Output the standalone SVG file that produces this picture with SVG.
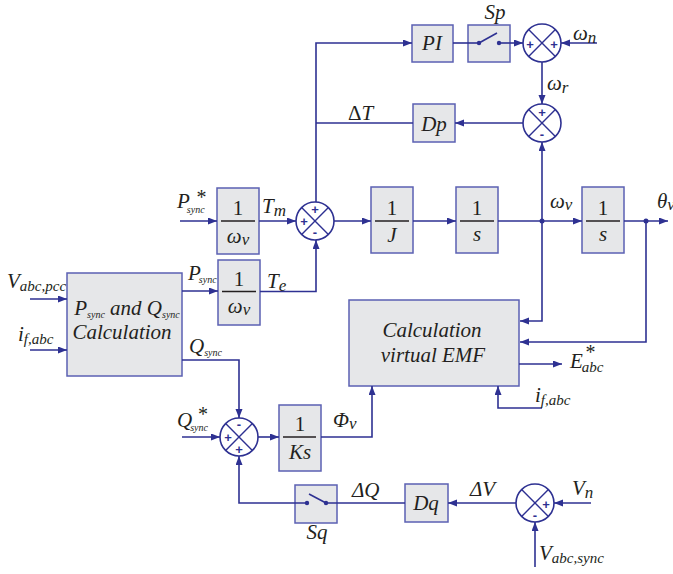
<svg xmlns="http://www.w3.org/2000/svg" width="673" height="574" viewBox="0 0 673 574">
<defs>
<marker id="ar" markerUnits="userSpaceOnUse" markerWidth="10" markerHeight="8" refX="9" refY="3.5" orient="auto">
<path d="M0,0 L9,3.5 L0,7 z" fill="#2e3192"/>
</marker>
<style>
.box{fill:#e6e7e9;stroke:#5b60b3;stroke-width:1.5}
.ln{fill:none;stroke:#2e3192;stroke-width:1.6}
.la{fill:none;stroke:#2e3192;stroke-width:1.6;marker-end:url(#ar)}
.sum{fill:#ffffff;stroke:#2e3192;stroke-width:1.6}
.x{stroke:#2e3192;stroke-width:1.4}
.sg{font-family:'Liberation Sans',sans-serif;font-size:13px;font-weight:bold;fill:#2e3192;text-anchor:middle;dominant-baseline:central}
.t{font-family:'Liberation Serif','DejaVu Serif',serif;font-style:italic;font-size:21px;fill:#231f20}
.n{font-family:'Liberation Serif','DejaVu Serif',serif;font-size:21px;fill:#231f20;text-anchor:middle}
.c{text-anchor:middle}
.dot{fill:#2e3192}
.fl{stroke:#231f20;stroke-width:1.3}
</style>
</defs>
<rect width="673" height="574" fill="#ffffff"/>

<g id="PI"><rect class="box" x="412" y="25" width="41" height="37"/><text class="t c" x="432" y="50">PI</text></g>
<g id="Sp"><rect class="box" x="468" y="25" width="42" height="37"/><text class="t c" x="495" y="19">Sp</text></g>
<g id="Dp"><rect class="box" x="413" y="104" width="42" height="38"/><text class="t c" x="434" y="131">Dp</text></g>

<g id="sum1"><circle class="sum" cx="542" cy="43" r="19"/><path class="x" d="M528.6,29.6 L555.4,56.4 M555.4,29.6 L528.6,56.4"/><text class="sg" x="530" y="44">+</text><text class="sg" x="554" y="44">+</text></g>
<g id="sum2"><circle class="sum" cx="542" cy="123" r="19"/><path class="x" d="M528.6,109.6 L555.4,136.4 M555.4,109.6 L528.6,136.4"/><text class="sg" x="542" y="112">+</text><text class="sg" x="542" y="134">-</text></g>
<g id="sum3"><circle class="sum" cx="315" cy="221" r="19"/><path class="x" d="M301.6,207.6 L328.4,234.4 M328.4,207.6 L301.6,234.4"/><text class="sg" x="315" y="209">+</text><text class="sg" x="304" y="221">+</text><text class="sg" x="315" y="232">-</text></g>
<g id="sum4"><circle class="sum" cx="239" cy="437" r="19"/><path class="x" d="M225.6,423.6 L252.4,450.4 M252.4,423.6 L225.6,450.4"/><text class="sg" x="239" y="424">-</text><text class="sg" x="228" y="437">+</text><text class="sg" x="239" y="449">+</text></g>
<g id="sum5"><circle class="sum" cx="535" cy="503" r="19"/><path class="x" d="M521.6,489.6 L548.4,516.4 M548.4,489.6 L521.6,516.4"/><text class="sg" x="546" y="504">+</text><text class="sg" x="535" y="515">-</text></g>

<g id="inv_w1"><rect class="box" x="217" y="188" width="42" height="66"/><text class="n" x="238" y="215">1</text><line class="fl" x1="221" y1="221" x2="255" y2="221"/><text class="t c" x="238" y="243">ω<tspan font-size="17" dy="2">v</tspan></text></g>
<g id="inv_J"><rect class="box" x="371" y="187" width="42" height="66"/><text class="n" x="392" y="215">1</text><line class="fl" x1="375" y1="221" x2="409" y2="221"/><text class="t c" x="392" y="242">J</text></g>
<g id="int1"><rect class="box" x="456" y="187" width="42" height="66"/><text class="n" x="477" y="215">1</text><line class="fl" x1="460" y1="221" x2="494" y2="221"/><text class="t c" x="477" y="241">s</text></g>
<g id="int2"><rect class="box" x="582" y="187" width="42" height="66"/><text class="n" x="603" y="215">1</text><line class="fl" x1="586" y1="221" x2="620" y2="221"/><text class="t c" x="603" y="241">s</text></g>
<g id="inv_w2"><rect class="box" x="218" y="260" width="42" height="65"/><text class="n" x="239" y="286">1</text><line class="fl" x1="222" y1="291.5" x2="256" y2="291.5"/><text class="t c" x="239" y="313">ω<tspan font-size="17" dy="2">v</tspan></text></g>
<g id="inv_Ks"><rect class="box" x="279" y="405" width="42" height="66"/><text class="n" x="300" y="431">1</text><line class="fl" x1="283" y1="437" x2="316" y2="437"/><text class="t c" x="300" y="459">Ks</text></g>

<g id="PQcalc"><rect class="box" x="67" y="273" width="115" height="103"/>
<text class="t c" x="127" y="315" font-size="20">P<tspan font-size="10" dy="3">sync</tspan><tspan dy="-3"> and Q</tspan><tspan font-size="10" dy="3">sync</tspan></text>
<text class="t c" x="122" y="339" font-size="22">Calculation</text></g>
<g id="EMF"><rect class="box" x="349" y="300" width="170" height="86"/>
<text class="t c" x="432" y="337" font-size="22">Calculation</text>
<text class="t c" x="433" y="362" font-size="22">virtual EMF</text></g>
<g id="Sq"><rect class="box" x="295" y="485" width="42" height="38"/><text class="t c" x="317" y="539">Sq</text></g>
<g id="Dq"><rect class="box" x="405" y="484" width="43" height="38"/><text class="t c" x="426" y="510">Dq</text></g>

<g id="connectors">
<path class="la" d="M316,202 V43 H412"/>
<path class="ln" d="M413,123 H316"/>
<path class="ln" d="M453,43 H479"/>
<path class="ln" d="M479,43 L497,33"/>
<path class="la" d="M499,43 H523"/>
<path class="la" d="M597,43 H561"/>
<path class="la" d="M542,62 V104"/>
<path class="la" d="M523,123 H455"/>
<path class="la" d="M542,221 V142"/>
<path class="la" d="M180,221 H217"/>
<path class="la" d="M259,221 H296"/>
<path class="la" d="M334,221 H371"/>
<path class="la" d="M413,221 H456"/>
<path class="la" d="M498,221 H582"/>
<path class="la" d="M624,221 H668"/>
<path class="la" d="M542,221 V321 H520"/>
<path class="la" d="M646,221 V342 H520"/>
<path class="la" d="M260,291.5 H316 V240"/>
<path class="la" d="M182,291 H218"/>
<path class="la" d="M30,299 H67"/>
<path class="la" d="M30,350 H67"/>
<path class="la" d="M182,360 H239 V418"/>
<path class="la" d="M182,437 H220"/>
<path class="la" d="M258,437 H279"/>
<path class="la" d="M321,437 H372 V386"/>
<path class="la" d="M519,364 H562"/>
<path class="la" d="M542,408 H498 V386"/>
<path class="la" d="M591,503 H554"/>
<path class="la" d="M535,567 V522"/>
<path class="la" d="M516,503 H448"/>
<path class="ln" d="M405,503 H326"/>
<path class="ln" d="M326,503 L309,494"/>
<path class="la" d="M307,503 H239 V456"/>
<circle class="dot" cx="479" cy="43" r="2.2"/>
<circle class="dot" cx="499" cy="43" r="2.2"/>
<circle class="dot" cx="307" cy="503" r="2.2"/>
<circle class="dot" cx="326" cy="503" r="2.2"/>
<circle class="dot" cx="542" cy="221" r="2.5"/>
<circle class="dot" cx="646" cy="221" r="2.5"/>
</g>

<g id="labels">
<text class="t" x="573" y="40">ω<tspan font-size="17" dy="3">n</tspan></text>
<text class="t" x="547" y="90">ω<tspan font-size="17" dy="3">r</tspan></text>
<text class="t" x="348" y="120"><tspan font-style="normal">Δ</tspan>T</text>
<text class="t" x="177" y="208" font-size="19">P<tspan font-size="10" dy="5" dx="-3">sync</tspan><tspan font-size="20" font-style="normal" dy="-9" dx="-8">*</tspan></text>
<text class="t" x="262" y="213">T<tspan font-size="17" dy="3">m</tspan></text>
<text class="t" x="267" y="288">T<tspan font-size="17" dy="3">e</tspan></text>
<text class="t" x="550" y="208">ω<tspan font-size="17" dy="2">v</tspan></text>
<text class="t" x="657" y="208">θ<tspan font-size="17" dy="2">v</tspan></text>
<text class="t" x="7" y="288" font-size="20">V<tspan font-size="15" dy="3">abc,pcc</tspan></text>
<text class="t" x="18" y="341" font-size="20">i<tspan font-size="15" dy="3">f,abc</tspan></text>
<text class="t" x="188" y="280" font-size="19">P<tspan font-size="10" dy="3" dx="-2">sync</tspan></text>
<text class="t" x="189" y="353" font-size="19">Q<tspan font-size="10" dy="3">sync</tspan></text>
<text class="t" x="177" y="427" font-size="19">Q<tspan font-size="10" dy="4" dx="-2">sync</tspan><tspan font-size="20" font-style="normal" dy="-10" dx="-10">*</tspan></text>
<text class="t" x="333" y="427">Φ<tspan font-size="17" dy="2">v</tspan></text>
<text class="t" x="570" y="368">E<tspan font-size="15" dy="4" dx="-1">abc</tspan><tspan font-size="20" font-style="normal" dy="-13" dx="-18">*</tspan></text>
<text class="t" x="535" y="402" font-size="20">i<tspan font-size="15" dy="3">f,abc</tspan></text>
<text class="t" x="352" y="497">ΔQ</text>
<text class="t" x="470" y="496">ΔV</text>
<text class="t" x="572" y="495">V<tspan font-size="17" dy="3">n</tspan></text>
<text class="t" x="539" y="560" font-size="20">V<tspan font-size="15" dy="3">abc,sync</tspan></text>
</g>
</svg>
